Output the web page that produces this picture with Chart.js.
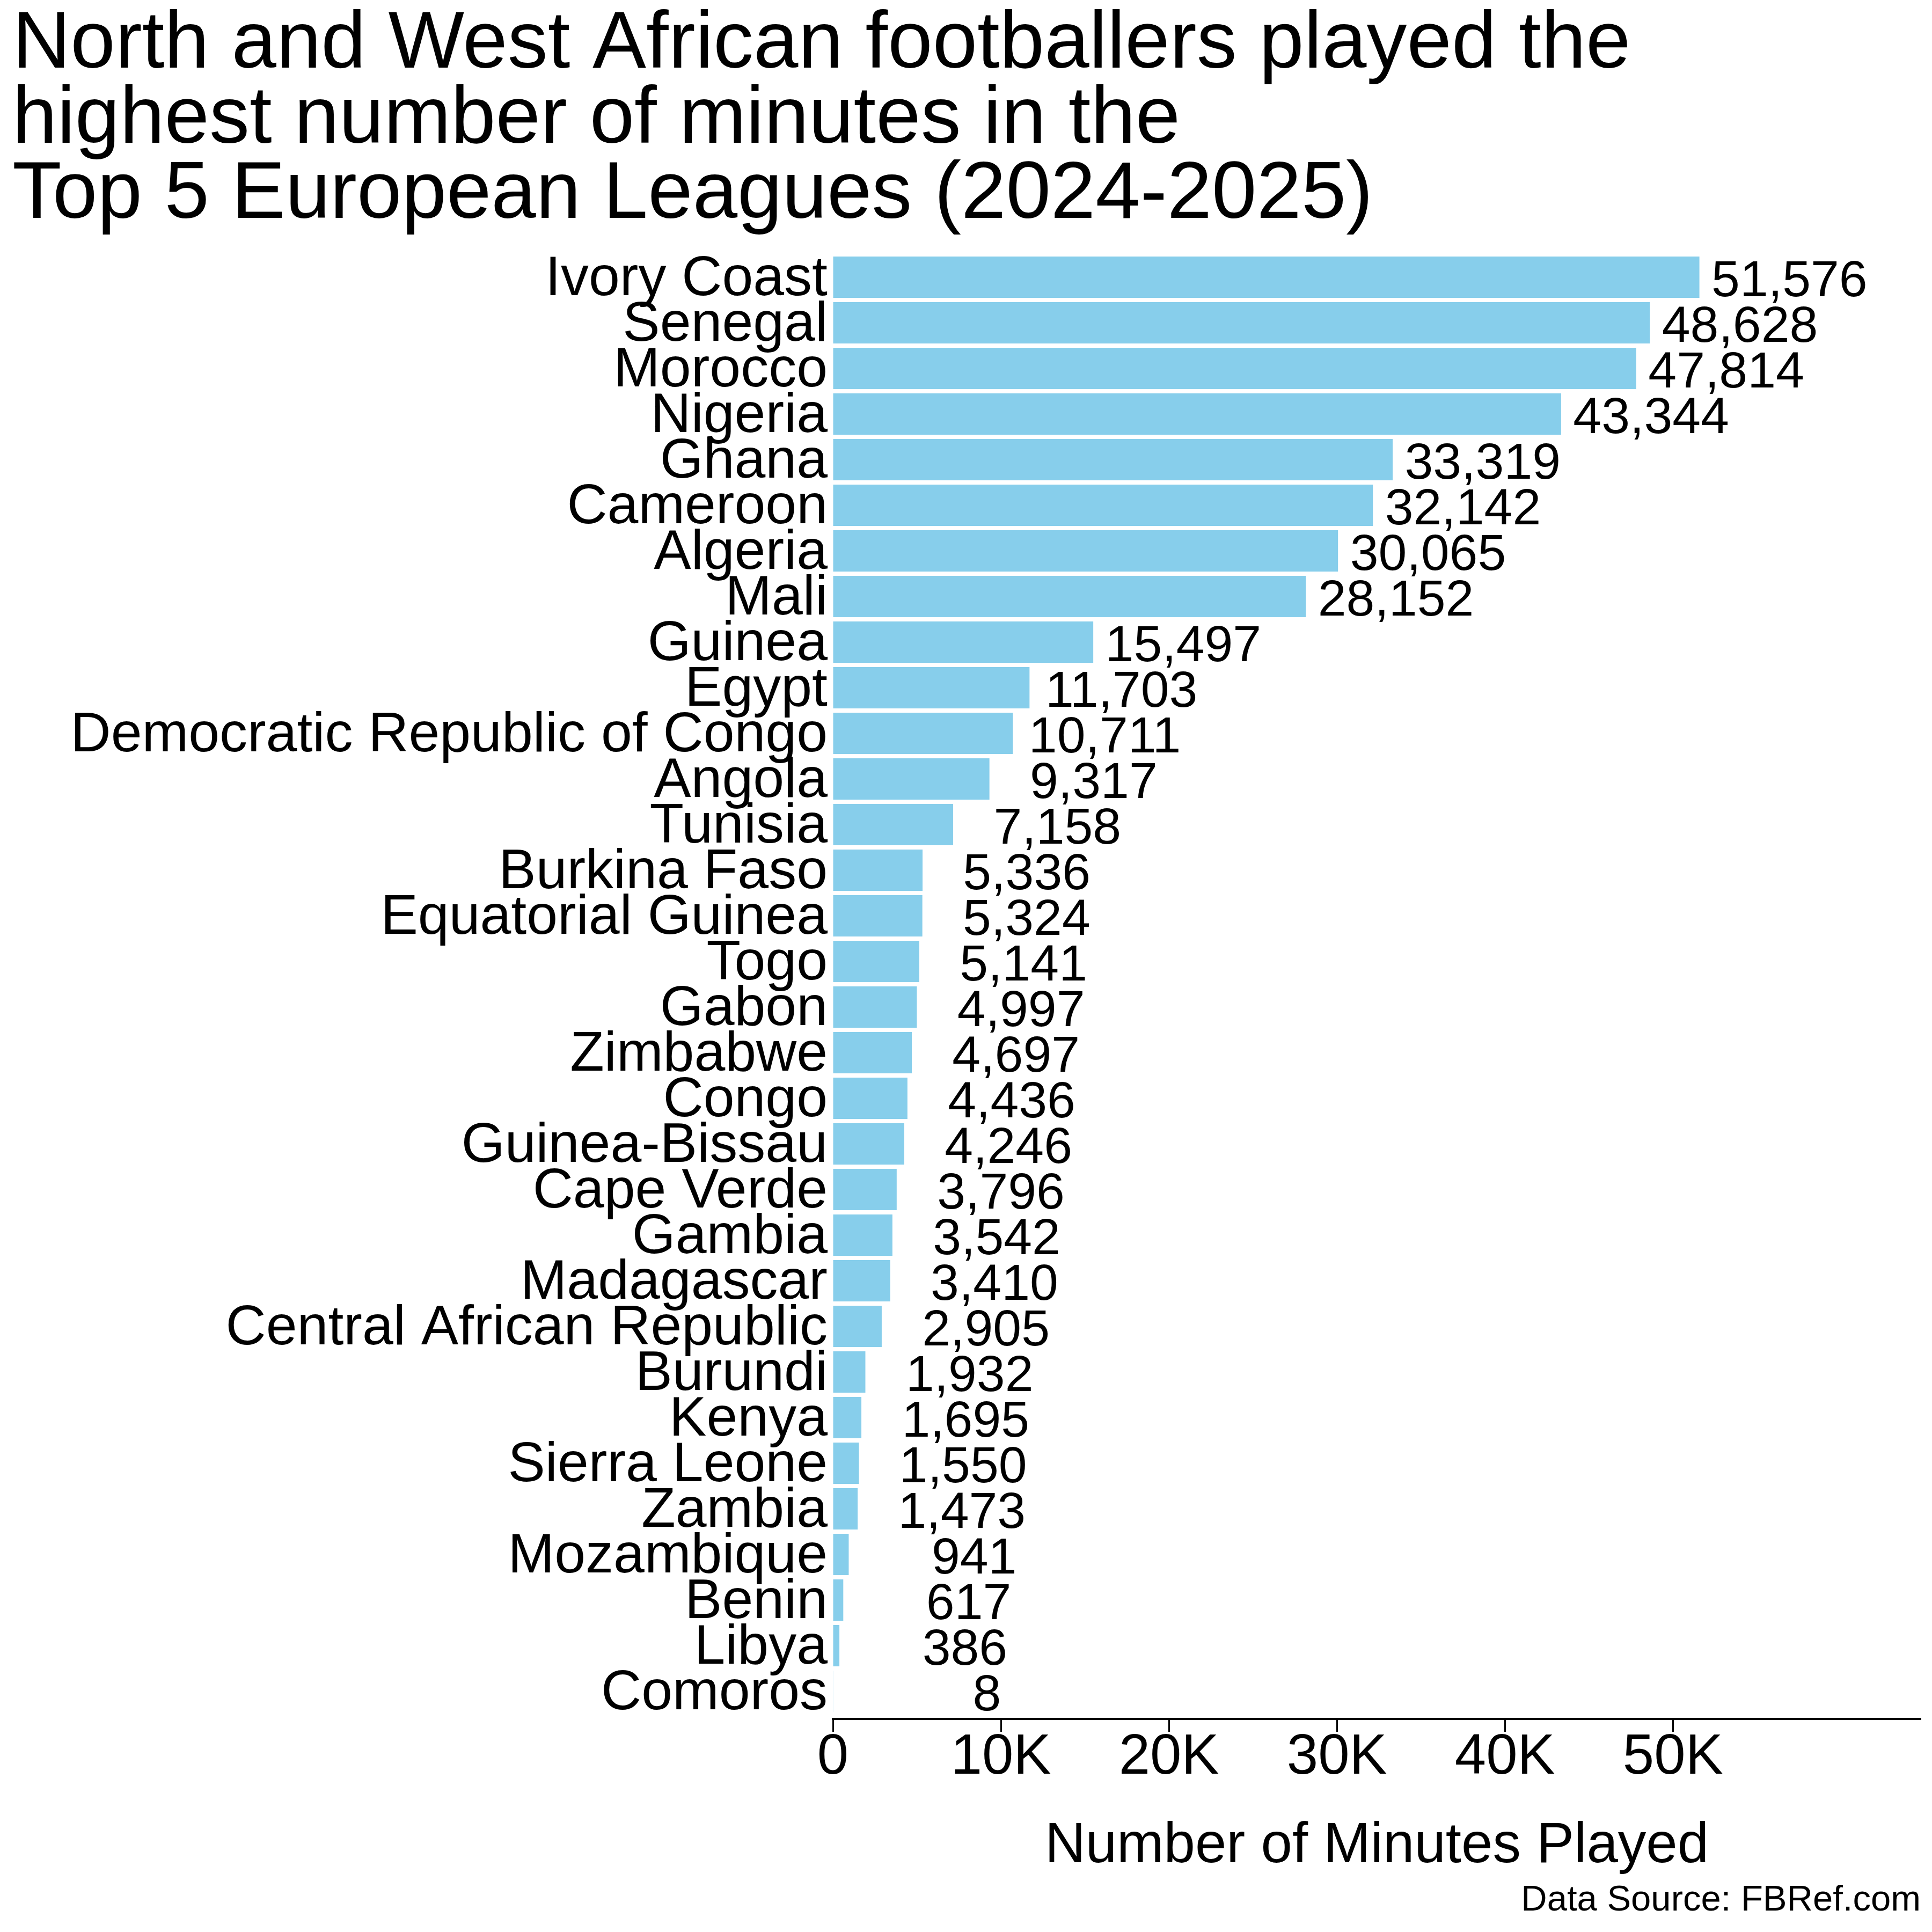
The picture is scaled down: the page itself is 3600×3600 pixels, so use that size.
<!DOCTYPE html>
<html>
<head>
<meta charset="utf-8">
<script src="https://cdn.jsdelivr.net/npm/chart.js@4/dist/chart.umd.min.js"></script>
<style>
  html, body { margin: 0; padding: 0; background: #fff; }
  #c { display: block; }
</style>
</head>
<body>
<canvas id="c" width="3600" height="3600" style="width:3600px;height:3600px"></canvas>
<script>
// ---- Data ----
const countries = [
  "Ivory Coast", "Senegal", "Morocco", "Nigeria", "Ghana", "Cameroon", "Algeria", "Mali",
  "Guinea", "Egypt", "Democratic Republic of Congo", "Angola", "Tunisia", "Burkina Faso",
  "Equatorial Guinea", "Togo", "Gabon", "Zimbabwe", "Congo", "Guinea-Bissau", "Cape Verde",
  "Gambia", "Madagascar", "Central African Republic", "Burundi", "Kenya", "Sierra Leone",
  "Zambia", "Mozambique", "Benin", "Libya", "Comoros"
];
const minutesPlayed = [
  51576, 48628, 47814, 43344, 33319, 32142, 30065, 28152,
  15497, 11703, 10711, 9317, 7158, 5336,
  5324, 5141, 4997, 4697, 4436, 4246, 3796,
  3542, 3410, 2905, 1932, 1695, 1550,
  1473, 941, 617, 386, 8
];
const xTickValues = [0, 10000, 20000, 30000, 40000, 50000];
const xTickLabels = ["0", "10K", "20K", "30K", "40K", "50K"];
const titleLines = [
  "North and West African footballers played the",
  "highest number of minutes in the",
  "Top 5 European Leagues (2024-2025)"
];
const xAxisTitle = "Number of Minutes Played";
const sourceNote = "Data Source: FBRef.com";
const xMax = 64750;
const valueLabelOffset = 10000;

// ---- Styling ----
const FONT = "'Liberation Sans', Arial, Helvetica, sans-serif";
Chart.defaults.font.family = FONT;
Chart.defaults.color = '#000';

const valueLabels = {
  id: 'valueLabels',
  afterDatasetsDraw(chart) {
    const ctx = chart.ctx;
    const meta = chart.getDatasetMeta(0);
    const xs = chart.scales.x;
    ctx.save();
    ctx.font = '95px ' + FONT;
    ctx.fillStyle = '#000';
    ctx.textAlign = 'right';
    ctx.textBaseline = 'alphabetic';
    meta.data.forEach((bar, i) => {
      const v = minutesPlayed[i];
      ctx.fillText(v.toLocaleString('en-US'), xs.getPixelForValue(v + valueLabelOffset), bar.y + 35);
    });
    ctx.restore();
  }
};

// leave a small gap between the last bar band and the x axis line
const axisGap = {
  id: 'axisGap',
  afterLayout(chart) {
    const y = chart.scales.y;
    y.bottom = y.bottom - 9;
    y.height = y.bottom - y.top;
    y.configure();
  }
};

new Chart(document.getElementById('c'), {
  type: 'bar',
  data: {
    labels: countries,
    datasets: [{
      data: minutesPlayed,
      backgroundColor: '#87CEEB',
      borderWidth: 0,
      categoryPercentage: 1.0,
      barPercentage: 0.906
    }]
  },
  options: {
    indexAxis: 'y',
    responsive: false,
    maintainAspectRatio: false,
    devicePixelRatio: 1,
    animation: false,
    layout: { padding: { left: 23, right: 21, top: 0, bottom: 0 } },
    plugins: {
      legend: { display: false },
      tooltip: { enabled: false },
      title: {
        display: true,
        text: titleLines,
        align: 'start',
        color: '#000',
        font: { size: 150, weight: 'normal', lineHeight: '140px' },
        padding: { top: 14.5, bottom: 39.5 }
      },
      subtitle: {
        display: true,
        text: sourceNote,
        position: 'bottom',
        align: 'end',
        color: '#000',
        font: { size: 67, weight: 'normal', lineHeight: 1.2 },
        padding: { top: 0, bottom: 18.6 }
      }
    },
    scales: {
      x: {
        type: 'linear',
        position: 'bottom',
        min: 0,
        max: xMax,
        afterBuildTicks(scale) {
          scale.ticks = xTickValues.map(v => ({ value: v }));
        },
        afterFit(scale) { scale.height = 298; },
        ticks: {
          includeBounds: false,
          autoSkip: false,
          maxRotation: 0,
          padding: 7.5,
          color: '#000',
          font: { size: 105, lineHeight: 0.8 },
          callback(v) {
            const i = xTickValues.indexOf(v);
            return i >= 0 ? xTickLabels[i] : '';
          }
        },
        grid: {
          display: true,
          drawOnChartArea: false,
          drawTicks: true,
          tickLength: 24,
          tickWidth: 3,
          tickColor: '#000'
        },
        border: { display: true, width: 4, color: '#000' },
        title: {
          display: true,
          text: xAxisTitle,
          color: '#000',
          font: { size: 105, lineHeight: 1.15 },
          padding: { top: 0, bottom: 0 }
        }
      },
      y: {
        type: 'category',
        position: 'left',
        offset: true,
        afterFit(scale) { scale.width = 1529; },
        ticks: {
          autoSkip: false,
          padding: 10,
          labelOffset: 5,
          color: '#000',
          font: { size: 104, lineHeight: 1.2 }
        },
        grid: { display: false, drawTicks: false },
        border: { display: false }
      }
    }
  },
  plugins: [valueLabels, axisGap]
});
</script>
</body>
</html>
